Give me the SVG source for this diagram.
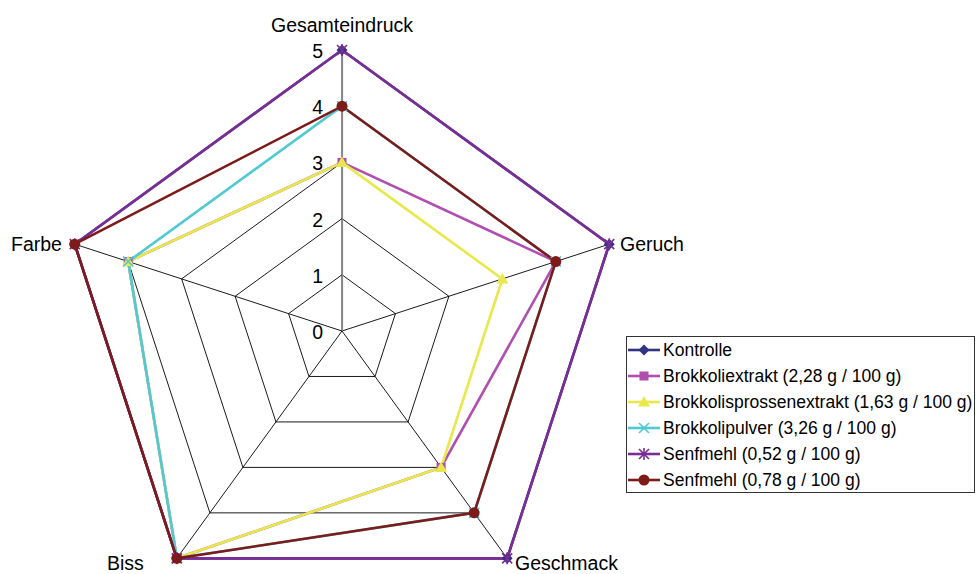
<svg xmlns="http://www.w3.org/2000/svg" xmlns:xlink="http://www.w3.org/1999/xlink" width="976" height="574" viewBox="0 0 976 574">
<style>
text{font-family:"Liberation Sans",Arial,sans-serif;fill:#000}
.lbl{font-size:19.5px}
.num{font-size:19.5px;text-anchor:end}
.leg{font-size:17.5px}
.grid{fill:none;stroke:#000;stroke-width:0.9}
.s{fill:none;stroke-width:2.6;stroke-linejoin:miter}
</style>
<defs>
<symbol id="mDia" overflow="visible"><polygon points="0,-5.5 5.5,0 0,5.5 -5.5,0" fill="#333380"/></symbol>
<symbol id="mSq" overflow="visible"><rect x="-4.5" y="-4.5" width="9" height="9" fill="#B04FB0"/></symbol>
<symbol id="mTri" overflow="visible"><polygon points="0,-6 6,4.5 -6,4.5" fill="#E8E84A"/></symbol>
<symbol id="mX" overflow="visible"><path d="M-5,-5L5,5M-5,5L5,-5" stroke="#4FC9D2" stroke-width="1.6"/></symbol>
<symbol id="mStar" overflow="visible"><path d="M-5,-5L5,5M-5,5L5,-5M0,-6V6" stroke="#7B2D96" stroke-width="1.6"/></symbol>
<symbol id="mCir" overflow="visible"><circle r="5.5" fill="#7D1A1A"/></symbol>
</defs>
<rect width="976" height="574" fill="#fff"/>
<g id="grid">
<polygon class="grid" points="342,274.8 395.45,313.63 375.03,376.47 308.97,376.47 288.55,313.63"/>
<polygon class="grid" points="342,218.6 448.9,296.27 408.07,421.93 275.93,421.93 235.1,296.27"/>
<polygon class="grid" points="342,162.4 502.36,278.9 441.1,467.4 242.9,467.4 181.64,278.9"/>
<polygon class="grid" points="342,106.2 555.81,261.54 474.14,512.86 209.86,512.86 128.19,261.54"/>
<polygon class="grid" points="342,50 609.26,244.17 507.17,558.33 176.83,558.33 74.74,244.17"/>
<path class="grid" d="M342,331L342,50M342,331L609.26,244.17M342,331L507.17,558.33M342,331L176.83,558.33M342,331L74.74,244.17"/>
<path d="M342.5,331V50" stroke="#888" stroke-width="1.2"/>
</g>
<g id="axis-labels">
<text class="num" x="323" y="58">5</text>
<text class="num" x="323" y="114">4</text>
<text class="num" x="323" y="170">3</text>
<text class="num" x="323" y="227">2</text>
<text class="num" x="323" y="283">1</text>
<text class="num" x="323" y="339">0</text>
<text class="lbl" x="342" y="32" text-anchor="middle">Gesamteindruck</text>
<text class="lbl" x="620" y="251">Geruch</text>
<text class="lbl" x="515" y="570">Geschmack</text>
<text class="lbl" x="107" y="570">Biss</text>
<text class="lbl" x="11" y="251">Farbe</text>
</g>
<g id="series">
<g id="kontrolle">
<polygon class="s" stroke="#333380" points="342,50 609.26,244.17 507.17,558.33 176.83,558.33 74.74,244.17"/>
</g>
<g id="brokkoliextrakt">
<polygon class="s" stroke="#B04FB0" points="342,162.4 555.81,261.54 441.1,467.4 176.83,558.33 128.19,261.54"/>
</g>
<g id="sprossen">
<polygon class="s" stroke="#E8E84A" points="342,162.4 502.36,278.9 441.1,467.4 176.83,558.33 128.19,261.54"/>
</g>
<g id="pulver">
<polygon class="s" stroke="#4FC9D2" points="342,106.2 555.81,261.54 474.14,512.86 176.83,558.33 128.19,261.54"/>
</g>
<g id="senf052">
<polygon class="s" stroke="#7B2D96" points="342,50 609.26,244.17 507.17,558.33 176.83,558.33 74.74,244.17"/>
</g>
<g id="senf078">
<polygon class="s" stroke="#7D1A1A" points="342,106.2 555.81,261.54 474.14,512.86 176.83,558.33 74.74,244.17"/>
</g>
</g>
<g id="markers">
<use href="#mDia" x="342" y="50"/><use href="#mDia" x="609.26" y="244.17"/><use href="#mDia" x="507.17" y="558.33"/><use href="#mDia" x="176.83" y="558.33"/><use href="#mDia" x="74.74" y="244.17"/>
<use href="#mSq" x="342" y="162.4"/><use href="#mSq" x="555.81" y="261.54"/><use href="#mSq" x="441.1" y="467.4"/><use href="#mSq" x="176.83" y="558.33"/><use href="#mSq" x="128.19" y="261.54"/>
<use href="#mTri" x="342" y="162.4"/><use href="#mTri" x="502.36" y="278.9"/><use href="#mTri" x="441.1" y="467.4"/><use href="#mTri" x="176.83" y="558.33"/><use href="#mTri" x="128.19" y="261.54"/>
<use href="#mX" x="342" y="106.2"/><use href="#mX" x="555.81" y="261.54"/><use href="#mX" x="474.14" y="512.86"/><use href="#mX" x="176.83" y="558.33"/><use href="#mX" x="128.19" y="261.54"/>
<use href="#mStar" x="342" y="50"/><use href="#mStar" x="609.26" y="244.17"/><use href="#mStar" x="507.17" y="558.33"/><use href="#mStar" x="176.83" y="558.33"/><use href="#mStar" x="74.74" y="244.17"/>
<use href="#mCir" x="342" y="106.2"/><use href="#mCir" x="555.81" y="261.54"/><use href="#mCir" x="474.14" y="512.86"/><use href="#mCir" x="176.83" y="558.33"/><use href="#mCir" x="74.74" y="244.17"/>
</g>
<g id="legend">
<rect x="626.5" y="336.5" width="348" height="156" fill="#fff" stroke="#333" stroke-width="1"/>
<path d="M628,350H660" stroke="#333380" stroke-width="2.6"/><use href="#mDia" x="644" y="350"/>
<path d="M628,376H660" stroke="#B04FB0" stroke-width="2.6"/><use href="#mSq" x="644" y="376"/>
<path d="M628,402H660" stroke="#E8E84A" stroke-width="2.6"/><use href="#mTri" x="644" y="402"/>
<path d="M628,428H660" stroke="#4FC9D2" stroke-width="2.6"/><use href="#mX" x="644" y="428"/>
<path d="M628,454H660" stroke="#7B2D96" stroke-width="2.6"/><use href="#mStar" x="644" y="454"/>
<path d="M628,480H660" stroke="#7D1A1A" stroke-width="2.6"/><use href="#mCir" x="644" y="480"/>
<text class="leg" x="663" y="356">Kontrolle</text>
<text class="leg" x="663" y="382">Brokkoliextrakt (2,28 g / 100 g)</text>
<text class="leg" x="663" y="408">Brokkolisprossenextrakt (1,63 g / 100 g)</text>
<text class="leg" x="663" y="434">Brokkolipulver (3,26 g / 100 g)</text>
<text class="leg" x="663" y="460">Senfmehl (0,52 g / 100 g)</text>
<text class="leg" x="663" y="486">Senfmehl (0,78 g / 100 g)</text>
</g>
</svg>
